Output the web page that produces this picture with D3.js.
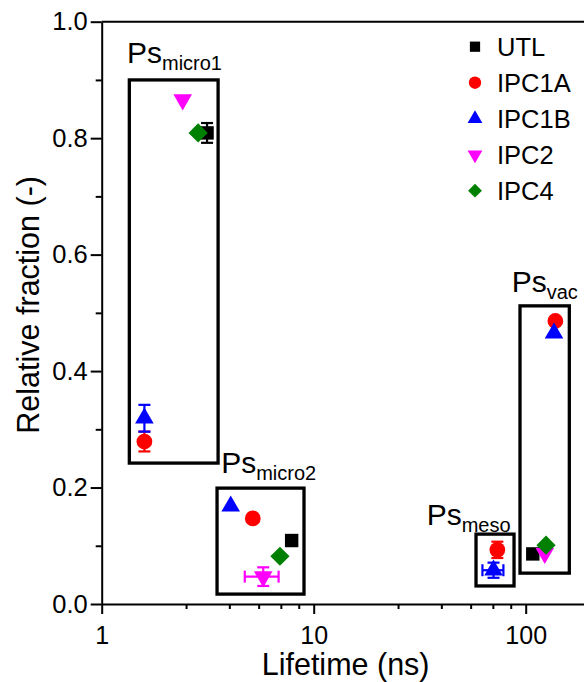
<!DOCTYPE html>
<html>
<head>
<meta charset="utf-8">
<script src="https://cdn.jsdelivr.net/npm/d3@7"></script>
<style>
  html, body { margin: 0; padding: 0; background: #fff; }
  svg { display: block; font-family: Arial, "Liberation Sans", sans-serif; }
</style>
</head>
<body>
<svg id="chart" width="584" height="682"></svg>
<script>
// ---------------- data ----------------
const seriesNames  = ["UTL", "IPC1A", "IPC1B", "IPC2", "IPC4"];
const seriesColors = ["#000000", "#ff0000", "#0000ff", "#ff00ff", "#008000"];
const seriesShapes = ["square", "circle", "triangle", "triangleDown", "diamond"];

// lifetime (ns), fraction (-), x error (ns), y error (-)
const utlLifetime   = [3.14, 7.87, 108];
const utlFraction   = [0.809, 0.109, 0.086];
const utlXErr       = [0, 0, 0];
const utlYErr       = [0.017, 0, 0];

const ipc1aLifetime = [1.59, 5.16, 73.5, 138];
const ipc1aFraction = [0.279, 0.147, 0.093, 0.486];
const ipc1aXErr     = [0, 0, 0, 0];
const ipc1aYErr     = [0.017, 0, 0.014, 0];

const ipc1bLifetime = [1.59, 4.06, 70.5, 136];
const ipc1bFraction = [0.319, 0.168, 0.058, 0.465];
const ipc1bXErr     = [0, 0, 8, 0];
const ipc1bYErr     = [0.023, 0, 0.013, 0];

const ipc2Lifetime  = [2.41, 5.78, 123];
const ipc2Fraction  = [0.866, 0.047, 0.087];
const ipc2XErr      = [0, 1.05, 0];
const ipc2YErr      = [0, 0.016, 0];

const ipc4Lifetime  = [2.85, 6.93, 124.7];
const ipc4Fraction  = [0.809, 0.082, 0.101];
const ipc4XErr      = [0, 0, 0];
const ipc4YErr      = [0, 0, 0];

// component boxes (data units)
const boxNames     = ["micro1", "micro2", "meso", "vac"];
const boxLifetime0 = [1.35, 3.50, 58.3, 94];
const boxLifetime1 = [3.54, 9.0, 88.1, 160.6];
const boxFraction0 = [0.242, 0.017, 0.031, 0.053];
const boxFraction1 = [0.900, 0.199, 0.120, 0.512];
const labelLifetime = [1.316, 3.66, 34.1, 85.9];
const labelFraction = [0.929, 0.225, 0.136, 0.536];

// axes
const xDomain = [1, 200];
const yDomain = [0, 1];
const xMajorTicks = [1, 10, 100];
const xMinorTicks = [2.5, 4, 5.5, 7, 8.5, 25, 40, 55, 70, 85];
const yMajorTicks = [0, 0.2, 0.4, 0.6, 0.8, 1.0];
const yMinorTicks = [0.1, 0.3, 0.5, 0.7, 0.9];
const xTitle = "Lifetime (ns)";
const yTitle = "Relative fraction (-)";

// ---------------- build ----------------
const seriesData = [
  [utlLifetime, utlFraction, utlXErr, utlYErr],
  [ipc1aLifetime, ipc1aFraction, ipc1aXErr, ipc1aYErr],
  [ipc1bLifetime, ipc1bFraction, ipc1bXErr, ipc1bYErr],
  [ipc2Lifetime, ipc2Fraction, ipc2XErr, ipc2YErr],
  [ipc4Lifetime, ipc4Fraction, ipc4XErr, ipc4YErr]
].map((arr, i) => ({
  name: seriesNames[i], color: seriesColors[i], shape: seriesShapes[i],
  points: arr[0].map((xv, j) => ({ x: xv, y: arr[1][j], xe: arr[2][j], ye: arr[3][j] }))
}));

const boxes = boxNames.map((n, i) => ({
  name: n, x0: boxLifetime0[i], x1: boxLifetime1[i], y0: boxFraction0[i], y1: boxFraction1[i],
  lx: labelLifetime[i], ly: labelFraction[i]
}));

const svg = d3.select("#chart");
const mLeft = 101.7, mTop = 21.7, mBottom = 604, decade = 212;
const x = d3.scaleLog().domain(xDomain).range([mLeft, mLeft + decade * Math.log10(xDomain[1])]);
const y = d3.scaleLinear().domain(yDomain).range([mBottom, mTop]);

function symbolPath(shape, area) {
  if (shape === "square") return d3.symbol(d3.symbolSquare, area)();
  if (shape === "circle") return d3.symbol(d3.symbolCircle, area)();
  if (shape === "triangle" || shape === "triangleDown") return d3.symbol(d3.symbolTriangle, area)();
  if (shape === "diamond") return d3.symbol(d3.symbolSquare, area)();
}
function symbolRotate(shape) {
  if (shape === "triangleDown") return " rotate(180)";
  if (shape === "diamond") return " rotate(45)";
  return "";
}
const markerArea = { square: 180, circle: 195, triangle: 150, triangleDown: 150, diamond: 185 };
const legendArea = { square: 105, circle: 120, triangle: 95, triangleDown: 95, diamond: 95 };

// frame (top and right lines)
svg.append("path")
  .attr("d", `M${mLeft},${mTop}H${x.range()[1]}V${mBottom}`)
  .attr("fill", "none").attr("stroke", "#000").attr("stroke-width", 2);

// x axis
const xAxis = d3.axisBottom(x).tickValues(xMajorTicks).tickFormat(d3.format("d"))
  .tickSizeInner(10).tickSizeOuter(0).tickPadding(12);
const gx = svg.append("g").attr("transform", `translate(0,${mBottom})`).call(xAxis);
gx.select(".domain").attr("stroke-width", 2);
gx.selectAll(".tick line").attr("stroke-width", 2);
gx.selectAll(".tick text").attr("font-size", 25).attr("fill", "#000")
  .attr("font-family", "Arial, 'Liberation Sans', sans-serif");
const xMinor = d3.axisBottom(x).tickValues(xMinorTicks).tickFormat("").tickSizeInner(5).tickSizeOuter(0);
const gxm = svg.append("g").attr("transform", `translate(0,${mBottom})`).call(xMinor);
gxm.select(".domain").remove();
gxm.selectAll(".tick line").attr("stroke-width", 2);

// y axis
const yAxis = d3.axisLeft(y).tickValues(yMajorTicks).tickFormat(d3.format(".1f"))
  .tickSizeInner(11).tickSizeOuter(0).tickPadding(3);
const gy = svg.append("g").attr("transform", `translate(${mLeft},0)`).call(yAxis);
gy.select(".domain").attr("stroke-width", 2);
gy.selectAll(".tick line").attr("stroke-width", 2);
gy.selectAll(".tick text").attr("font-size", 25.5).attr("fill", "#000")
  .attr("font-family", "Arial, 'Liberation Sans', sans-serif");
const yMinor = d3.axisLeft(y).tickValues(yMinorTicks).tickFormat("").tickSizeInner(6).tickSizeOuter(0);
const gym = svg.append("g").attr("transform", `translate(${mLeft},0)`).call(yMinor);
gym.select(".domain").remove();
gym.selectAll(".tick line").attr("stroke-width", 2);

// axis titles
svg.append("text").attr("x", (mLeft + x.range()[1]) / 2).attr("y", 675)
  .attr("text-anchor", "middle").attr("font-size", 30.5).text(xTitle);
svg.append("text").attr("transform", `translate(39,${(mTop + mBottom) / 2 - 8}) rotate(-90)`)
  .attr("text-anchor", "middle").attr("font-size", 30.5).text(yTitle);

// boxes
const gb = svg.append("g");
gb.selectAll("rect").data(boxes).join("rect")
  .attr("x", d => x(d.x0)).attr("y", d => y(d.y1))
  .attr("width", d => x(d.x1) - x(d.x0)).attr("height", d => y(d.y0) - y(d.y1))
  .attr("fill", "none").attr("stroke", "#000").attr("stroke-width", 3.3);
const lbl = gb.selectAll("text").data(boxes).join("text")
  .attr("x", d => x(d.lx)).attr("y", d => y(d.ly)).attr("font-size", 30);
lbl.append("tspan").text("Ps");
lbl.append("tspan").attr("font-size", 20).attr("dy", 7).text(d => d.name);

// series
seriesData.forEach(s => {
  const g = svg.append("g");
  s.points.forEach(p => {
    const cx = x(p.x), cy = y(p.y);
    const eg = g.append("g").attr("stroke", s.color).attr("stroke-width", 2.2);
    if (p.ye > 0) {
      const ya = y(p.y + p.ye), yb = y(p.y - p.ye);
      eg.append("line").attr("x1", cx).attr("x2", cx).attr("y1", ya).attr("y2", yb);
      eg.append("line").attr("x1", cx - 6).attr("x2", cx + 6).attr("y1", ya).attr("y2", ya);
      eg.append("line").attr("x1", cx - 6).attr("x2", cx + 6).attr("y1", yb).attr("y2", yb);
    }
    if (p.xe > 0) {
      const xa = x(p.x - p.xe), xb = x(p.x + p.xe);
      eg.append("line").attr("x1", xa).attr("x2", xb).attr("y1", cy).attr("y2", cy);
      eg.append("line").attr("x1", xa).attr("x2", xa).attr("y1", cy - 6).attr("y2", cy + 6);
      eg.append("line").attr("x1", xb).attr("x2", xb).attr("y1", cy - 6).attr("y2", cy + 6);
    }
    g.append("path")
      .attr("d", symbolPath(s.shape, markerArea[s.shape]))
      .attr("transform", `translate(${cx},${cy})${symbolRotate(s.shape)}`)
      .attr("fill", s.color);
  });
});

// legend
const lg = svg.append("g");
seriesData.forEach((s, i) => {
  const ly = 46.7 + i * 36;
  lg.append("path")
    .attr("d", symbolPath(s.shape, legendArea[s.shape]))
    .attr("transform", `translate(475,${ly})${symbolRotate(s.shape)}`)
    .attr("fill", s.color);
  lg.append("text").attr("x", 497).attr("y", ly + 9).attr("font-size", 25.5).text(s.name);
});
</script>
</body>
</html>
